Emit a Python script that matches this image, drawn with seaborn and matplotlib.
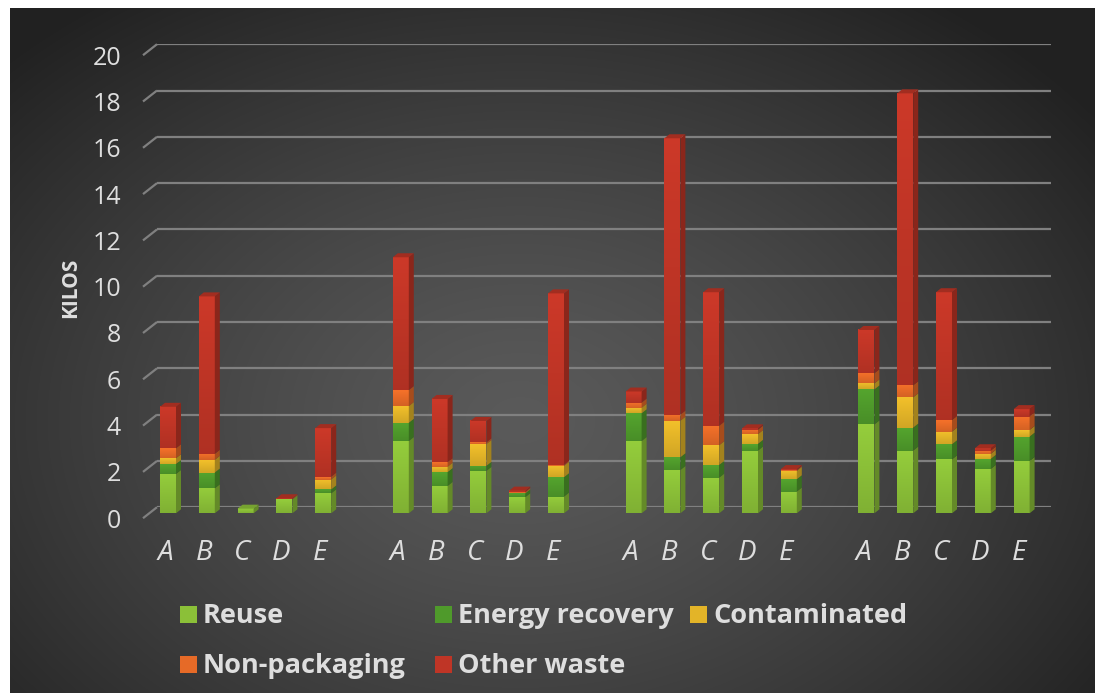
import numpy as np
import pandas as pd
import matplotlib
matplotlib.use("Agg")
import matplotlib.pyplot as plt
import seaborn as sns
from matplotlib.patches import Polygon, Rectangle
from matplotlib.transforms import ScaledTranslation, blended_transform_factory

# ---- data: four groups of bins A-E, kilos per waste stream ----
bins = ["A", "B", "C", "D", "E"]
n_groups = 4
streams = ["Reuse", "Energy recovery", "Contaminated", "Non-packaging", "Other waste"]

reuse = [1.70, 1.08, 0.20, 0.60, 0.86,
         3.12, 1.18, 1.83, 0.69, 0.72,
         3.12, 1.87, 1.54, 2.71, 0.94,
         3.84, 2.71, 2.33, 1.92, 2.26]
energy_recovery = [0.43, 0.68, 0.00, 0.00, 0.17,
                   0.79, 0.60, 0.22, 0.17, 0.84,
                   1.20, 0.55, 0.55, 0.29, 0.53,
                   1.51, 0.99, 0.65, 0.43, 1.05]
contaminated = [0.25, 0.55, 0.00, 0.00, 0.43,
                0.72, 0.23, 0.94, 0.02, 0.49,
                0.24, 1.58, 0.85, 0.42, 0.36,
                0.26, 1.31, 0.55, 0.22, 0.29]
non_packaging = [0.43, 0.26, 0.00, 0.03, 0.12,
                 0.69, 0.19, 0.07, 0.04, 0.04,
                 0.22, 0.26, 0.84, 0.19, 0.04,
                 0.44, 0.52, 0.50, 0.14, 0.58]
other_waste = [1.79, 6.80, 0.00, 0.02, 2.10,
               5.74, 2.74, 0.93, 0.06, 7.41,
               0.48, 11.94, 5.77, 0.06, 0.04,
               1.87, 12.61, 5.52, 0.10, 0.32]

y_ticks = list(range(0, 21, 2))

colors = {
    "Reuse": "#8bc038",
    "Energy recovery": "#4f9a2b",
    "Contaminated": "#e3b428",
    "Non-packaging": "#e66a27",
    "Other waste": "#bf3526",
}

# ---- long table: one row per bar segment, one empty slot between groups ----
series = [reuse, energy_recovery, contaminated, non_packaging, other_waste]
rows = []
for name, vals in zip(streams, series):
    for k, v in enumerate(vals):
        g, i = divmod(k, len(bins))
        rows.append({"slot": g * (len(bins) + 1) + i, "bin": bins[i],
                     "stream": name, "kilos": v})
df = pd.DataFrame(rows)

sns.set_theme(style="white")
plt.rcParams["font.family"] = ["Open Sans", "DejaVu Sans"]

W, H = 1095, 693
fig = plt.figure(figsize=(W / 100, H / 100), dpi=100, facecolor="white")


def box(x0, y0, x1, y1):
    """Figure rectangle from pixel edges measured from the top-left."""
    return [x0 / W, 1 - y1 / H, (x1 - x0) / W, (y1 - y0) / H]


def shade(c, f):
    r, g, b = matplotlib.colors.to_rgb(c)
    return (min(r * f, 1), min(g * f, 1), min(b * f, 1))


text_c = "#dedede"
grid_c = "#808080"

# ---- dark radial backdrop ----
ax_bg = fig.add_axes(box(10, 8, W, H), zorder=0)
yy, xx = np.mgrid[8:H, 10:W]
d = np.sqrt(((xx - 520) / 720.0) ** 2 + ((yy - 420) / 520.0) ** 2)
lum = (0x5a - (0x5a - 0x21) * np.clip(d, 0, 1) ** 1.3) / 255.0
ax_bg.imshow(np.dstack([lum, lum, lum]), aspect="auto", interpolation="bilinear")
ax_bg.axis("off")

# ---- back wall with gridlines, depth stubs and value labels ----
px_unit = 23.15
ax_wall = fig.add_axes(box(157, 507.2 - 20 * px_unit, 1051, 507.2), zorder=1)
ax_wall.set_xlim(0, 1)
ax_wall.set_ylim(0, 20)
ax_wall.patch.set_visible(False)
for s in ax_wall.spines.values():
    s.set_visible(False)
ax_wall.set_xticks([])
ax_wall.set_yticks([])
wall_w = 1051 - 157
stub_tr = blended_transform_factory(ax_wall.transAxes, ax_wall.transData)
lab_tr = stub_tr + ScaledTranslation(-36 / 100, -20.5 / 100, fig.dpi_scale_trans)
for v in y_ticks:
    ax_wall.axhline(v, color=grid_c, lw=1.6, zorder=1)
    ax_wall.plot([-14 / wall_w, 0], [v - 11 / px_unit, v], color=grid_c, lw=1.6,
                 transform=stub_tr, clip_on=False, solid_capstyle="butt")
    ax_wall.text(0, v, str(v), transform=lab_tr, ha="right", va="baseline",
                 fontsize=18, color=text_c)

fig.text(71 / W, 1 - 288 / H, "KILOS", rotation=90, ha="center", va="center",
         fontsize=15, fontweight="bold", color=text_c)

# ---- stacked bars ----
slot_px = 38.8
n_slots = n_groups * (len(bins) + 1) - 1
left = 168 - 0.5 * slot_px
ax_bar = fig.add_axes(box(left, 513.3 - 20 * px_unit, left + n_slots * slot_px, 513.3),
                      zorder=2)
sns.histplot(data=df, x="slot", weights="kilos", hue="stream",
             hue_order=streams[::-1], palette=colors, multiple="stack",
             discrete=True, shrink=16 / slot_px, linewidth=0, alpha=1,
             legend=False, ax=ax_bar)
ax_bar.patch.set_visible(False)
for s in ax_bar.spines.values():
    s.set_visible(False)
ax_bar.set_xticks([])
ax_bar.set_yticks([])
ax_bar.set_xlabel("")
ax_bar.set_ylabel("")

# soft vertical shading on each front face, side faces and top caps for depth
dx = 5 / slot_px
dy = 4 / px_unit
ramp = np.linspace(0, 1, 64)[:, None, None]
tops = {}
for p in list(ax_bar.patches):
    h = p.get_height()
    if h <= 1e-9:
        continue
    x0 = p.get_x()
    x1 = x0 + p.get_width()
    y0 = p.get_y()
    y1 = y0 + h
    fc = p.get_facecolor()
    top_c = np.array(shade(fc, 1.07))
    bot_c = np.array(shade(fc, 0.92))
    grad = top_c[None, None, :] * (1 - ramp) + bot_c[None, None, :] * ramp
    im = ax_bar.imshow(np.repeat(grad, 2, axis=1), extent=(x0, x1, y0, y1),
                       origin="upper", aspect="auto", interpolation="bilinear",
                       zorder=2.5)
    ax_bar.add_patch(Polygon([(x1, y0), (x1 + dx, y0 + dy), (x1 + dx, y1 + dy), (x1, y1)],
                             closed=True, facecolor=shade(fc, 0.72), lw=0,
                             clip_on=False, zorder=3))
    key = round(x0, 3)
    if key not in tops or y1 > tops[key][1]:
        tops[key] = (x0, y1, x1, fc)
for x0, y1, x1, fc in tops.values():
    ax_bar.add_patch(Polygon([(x0, y1), (x1, y1), (x1 + dx, y1 + dy), (x0 + dx, y1 + dy)],
                             closed=True, facecolor=shade(fc, 0.85), lw=0,
                             clip_on=False, zorder=3))
ax_bar.set_xlim(-0.5, n_slots - 0.5)
ax_bar.set_ylim(0, 20)

# bin letters under each bar
xlab_tr = ax_bar.transData + ScaledTranslation(-3 / 100, -46.7 / 100, fig.dpi_scale_trans)
for slot, b in df.loc[df["stream"] == streams[0], ["slot", "bin"]].itertuples(index=False):
    ax_bar.text(slot, 0, b, transform=xlab_tr, ha="center", va="baseline",
                fontsize=20, fontstyle="italic", color=text_c)

# ---- legend in a three-column grid ----
legend_pos = [(180, 614), (435, 614), (690, 614), (180, 664), (435, 664)]
for name, (x, y) in zip(streams, legend_pos):
    fig.patches.append(Rectangle((x / W, 1 - (y + 8.5) / H), 17 / W, 17 / H,
                                 transform=fig.transFigure, facecolor=colors[name],
                                 lw=0, zorder=5))
    fig.text((x + 23) / W, 1 - (y + 8.7) / H, name, ha="left", va="baseline",
             fontsize=19.5, fontweight="bold", color=text_c, zorder=5)

fig.savefig("out.png", dpi=100, facecolor="white")
